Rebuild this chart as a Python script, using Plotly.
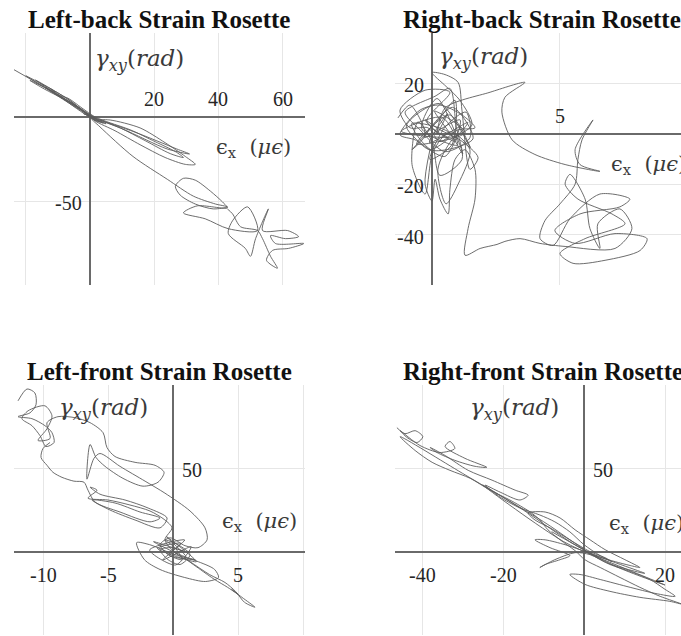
import plotly.graph_objects as go

# ---- Strain rosette trajectories: normal strain eps_x vs shear strain gamma_xy ----
# Left-back rosette
lb_eps_x = [-23.75, -15.6, -10.9, -12.5, -7.8, -3.1, 0.6, 3.1, -1.6, -6.3, -10.0, -6.9, -2.5, 1.6, 6.3, 12.5,
            20.3, 26.6, 29.1, 25.0, 17.2, 9.4, 3.1, 6.3, 15.6, 23.4, 29.7, 32.8, 29.7, 23.4, 15.6, 7.8, 1.6,
            -0.6, -4.7, -8.75, -14.1, -18.75, -12.5, -4.7, 1.6,
            -20.0, -8.0, 2.0, -5.0, -14.0, -3.0, 4.0, -1.0, -10.0, -17.0, -6.0, 1.0, 5.0, -2.0,
            2.0, 14.0, 27.0, 31.0, 24.0, 10.0, 0.0,
            3.1, 13.4, 24.1, 32.2, 39.1, 42.8, 38.4, 32.8,
            28.1, 26.6, 29.1, 32.8, 37.5, 41.3, 42.8, 33.4, 29.1, 35.9, 43.1, 52.2, 49.1, 44.4, 43.1, 48.4,
            50.0, 51.6, 55.6, 53.75, 61.6, 65.0, 60.9, 56.25, 57.8, 66.6, 61.9, 56.9, 55.0, 58.4, 56.25,
            53.75, 52.2, 46.9, 44.4, 42.8]
lb_gamma_xy = [28.2, 19.4, 14.7, 17.1, 10.6, 5.3, -0.6, -2.9, 2.9, 8.8, 12.9, 11.2, 5.3, 0.0, -3.5, -7.6,
               -14.7, -20.6, -24.1, -21.8, -14.1, -6.5, -1.8, -1.8, -6.5, -15.3, -23.5, -28.2, -28.2, -24.1,
               -16.5, -8.2, -2.4, 1.2, 6.5, 11.2, 16.5, 21.8, 15.9, 7.1, -0.6,
               24.5, 12.0, -2.5, 7.5, 17.5, 4.0, -3.5, 1.0, 13.0, 22.0, 9.5, -1.5, -4.0, 2.0,
               -1.0, -9.0, -19.0, -22.0, -19.0, -7.0, 0.0,
               -5.9, -23.5, -37.1, -47.1,
               -51.8, -53.5, -54.7, -51.8, -46.5, -41.2, -36.5, -37.6, -44.1, -50.6, -54.1, -52.9, -57.1,
               -60.6, -66.5, -67.6, -53.5, -61.8, -69.4, -78.2, -82.9, -72.4, -54.7, -67.6, -67.6, -71.2,
               -72.4, -70.6, -75.3, -75.3, -78.2, -79.4, -85.3, -90.0, -82.9, -72.4, -67.6, -65.3, -57.6, -54.7]

# Right-back rosette
rb_eps_x = [-1.33, -0.86, -0.27, -0.78, 0.31, 0.90, 0.78, -0.08, 0.51, 1.33, 1.48, 0.51, -0.47, -1.05, 0.12,
            0.70, 0.94, 1.17, 0.31, 0.0, -0.55, -0.78, -0.27, 0.04, 0.70, 1.48, 1.02, 0.55, 0.23, 0.78, 1.56,
            1.09, 0.55, 0.0, 0.51, 1.02, 1.17, 1.48, 1.80, 1.09, 0.31, -0.27, 0.20, 0.63, -0.08, -0.66, -1.25,
            -0.47, 0.31, 1.17, 1.68, 1.02, 0.31, -0.16, -0.86, -1.25, -0.27, 0.70,
            -0.2, 0.9, 0.1, 1.3, -0.6, 0.7, 1.5, 0.3, -1.0, 0.5, 1.1, -0.3, 0.8, 1.6, 0.0, -0.8, 0.6, 1.2,
            0.2, -0.4, 1.0, 0.4, -1.2, 0.9, 1.4, -0.1, 0.6, 0.2,
            0.51, 2.27, 3.63, 2.85,
            2.73, 3.13, 4.02, 5.20, 6.56, 5.78, 5.59, 6.29, 5.86, 5.70, 5.59, 5.0, 4.41, 4.22, 4.73, 5.39,
            6.56, 7.73, 7.34, 5.78, 4.80, 5.59, 7.15, 8.40, 8.13, 6.76, 5.51, 5.0, 5.98, 7.54, 7.03, 5.70,
            5.20, 5.39, 5.98, 6.17, 6.56, 6.48, 7.34, 7.81, 7.15, 5.20, 4.22, 3.44, 2.85, 2.54, 1.88, 1.29,
            1.41, 1.68, 1.68, 1.29, 0.90, 0.70, 0.63, 0.31, 0.12, 0.0, -0.27, -0.08]
rb_gamma_xy = [6.3, 11.4, -0.4, -6.3, 6.3, 13.3, -4.3, -10.2, 2.7, 8.6, -1.6, -7.1, 1.6, 8.6, 14.9, 18.0, 3.1,
               -10.2, -16.5, -3.1, 4.7, -12.2, -23.9, -7.1, 0.8, -6.3, -20.0, -27.8, -14.1, -2.4, 3.5, 13.3,
               18.8, 24.3, 23.5, 20.4, 9.4, -14.1, -9.4, -2.4, 1.6, 5.5, 0.4, -1.6, -6.3, -2.4, -0.4, 9.4,
               11.4, 7.5, 2.4, 1.6, -3.1, 2.4, 2.4, 9.4, 17.3, 16.5,
               5.0, -3.0, 9.0, 0.5, -4.0, 7.5, -5.5, 12.0, 3.0, -9.0, 5.5, -1.5, 10.5, -2.0, -6.5, 4.0, 1.0,
               -8.0, 14.0, 2.0, -4.5, 6.5, 1.0, -1.0, 4.5, -3.5, 8.0, 0.0,
               10.2, 16.5, 20.4, 14.5, 8.6, -2.4, -8.2,
               -12.2, -14.9, -12.2, -6.3, 5.5, -2.4, -10.2, -20.0, -27.8, -34.5, -41.6, -44.3, -33.7, -23.9,
               -25.9, -29.0, -31.8, -38.4, -43.5, -39.6, -41.6, -46.3, -50.2, -51.4, -47.5, -41.6, -35.7,
               -31.8, -25.9, -20.0, -16.1, -25.9, -37.6, -45.5, -35.7, -29.8, -37.6, -45.5, -44.7, -43.5,
               -41.6, -42.7, -43.9, -45.5, -48.2, -37.6, -25.9, -14.1, -6.3, -10.2, -22.0, -31.8, -25.9,
               -18.0, -26.7, -20.0, -6.3]

# Left-front rosette
lf_eps_x = [-11.92, -11.23, -10.62, -10.54, -11.0, -11.92, -10.85, -9.85, -9.31, -9.15, -9.77, -10.23, -10.85,
            -11.62, -11.15, -9.85, -9.31, -9.69, -10.38, -9.46, -9.69,
            -8.85, -7.54, -6.38, -5.38, -5.08, -4.46, -2.92, -1.38, -0.69, -1.15, -2.31, -3.85, -5.23, -5.92,
            -6.38, -6.62, -6.08, -5.62,
            -4.08, -2.15, -0.62, 1.31, 2.46, 2.62, 1.92,
            0.92, -0.23, -1.0, -0.38, 0.69, 0.15, -0.62, 0.38, 1.31, 0.54, -0.38, -1.0, -0.08, 0.92,
            -1.5, 1.0, -0.5, 1.8, -1.2, 0.6, -0.8, 1.4, 0.2, -1.8, 0.9, -0.3,
            1.7, 0.15, -1.8, -2.8, -2.2, -1.0, 0.9, 2.5, 3.5, 3.2, 2.1, 0.9, 2.1, 3.2, 4.2, 5.0, 4.5, 5.3,
            6.3, 5.5, 4.8, 4.0, 2.8, 1.3, 0.15,
            -0.62, -0.08, -0.62, -1.77, -3.31, -5.0, -6.54, -5.85, -6.38, -5.62, -3.69, -1.92, -0.46, -1.0,
            -2.92, -4.85, -6.23, -4.46, -2.54, -1.0, -1.77, -4.08, -6.0, -6.54,
            -6.85, -7.62, -8.54, -9.23, -9.69, -10.15, -10.0, -9.46]
lf_gamma_xy = [90.5, 97.6, 95.2, 88.1, 83.3, 81.0, 79.8, 75.6, 71.4, 65.5, 63.1, 69.6, 75.6,
               79.8, 84.5, 87.5, 81.5, 73.8, 66.7, 67.9, 77.4,
               81.0, 80.4, 77.4, 71.4, 62.5, 57.1, 53.6, 51.8, 47.6, 41.7, 39.3, 44.0, 51.2, 56.5,
               64.3, 43.5, 56.0, 58.9,
               51.2, 42.3, 35.1, 24.4, 14.3, 7.1, 2.4,
               3.6, 8.3, 4.2, -1.8, -4.8, 2.4, 7.1, 4.2, -1.8, -7.7, -4.8, 1.2, 2.4, 0.0,
               6.0, -3.0, 9.0, -6.0, 2.0, 5.0, -5.0, 3.0, -8.0, 1.0, 7.0, -2.0,
               -4.8, -1.8, 4.2, 5.4, -4.8, -10.7, -15.5, -17.9, -15.5, -10.7, -6.5, -3.6, -10.7, -16.7, -21.4,
               -25.6, -22.6, -27.4, -33.3, -30.4, -23.8, -18.5, -13.7, -6.0, -0.6,
               7.1, 14.3, 19.0, 24.4, 28.0, 31.0, 32.1, 36.9, 38.7, 34.5, 31.0, 26.2, 20.2, 14.3,
               19.0, 25.0, 31.0, 29.2, 23.8, 20.2, 17.9, 23.8, 29.8, 36.9,
               41.7, 42.3, 44.6, 47.6, 51.8, 56.5, 61.9, 65.5]

# Right-front rosette
rf_eps_x = [-46.2, -44.2, -41.7, -39.8, -41.2, -43.7, -45.4, -40.5, -35.6, -31.9, -33.1, -34.3, -29.4, -24.0,
            -26.9, -31.9, -36.3, -38.0, -34.3, -28.6, -22.7, -17.0, -13.8, -15.8, -20.7, -24.4, -20.7, -15.8,
            -10.9, -7.2, -3.5, 0.0, 4.0, 6.9, 5.2, 1.5, -3.5, -8.4, -12.1, -13.8, -9.6, -5.9, -2.2, 1.5, 5.2,
            10.1, 13.8, 11.4, 7.7, 3.5, -1.0, -4.7, -9.6, -12.1, -8.4, -3.5, -5.9, -9.6, -10.9, -7.2, -2.2,
            1.5, 6.4, 11.4, 16.3, 20.0, 22.5, 17.5, 11.4, 4.0, -1.0, -3.5, 0.2, 6.4, 13.8, 21.2, 24.2, 18.8,
            13.8, 8.9, 4.0, 0.2, -2.2, -5.9, -8.9, -10.9, -13.3, -18.3, -23.2, -28.1, -33.1, -37.5, -41.7,
            -45.4, -30.0, -10.0, 5.0, 15.0, 0.0, -15.0, -25.0, -5.0, 10.0, 20.0, 8.0, -8.0]
rf_gamma_xy = [74.4, 70.8, 72.6, 69.0, 65.5, 68.5, 72.6, 63.7, 59.5, 61.9, 66.1, 63.1, 56.0, 50.6, 51.2, 54.8,
               59.5, 62.5, 57.7, 48.8, 42.9, 36.9, 33.9, 31.0, 35.7, 39.9, 32.7, 26.2, 22.0, 17.9, 11.9, 4.2,
               -2.4, -6.0, -3.6, 0.0, 7.1, 14.3, 19.0, 23.2, 23.8, 20.2, 13.1, 7.1, 1.2, -4.8, -9.5, -8.3,
               -6.0, -3.0, 1.2, 4.2, 7.1, 7.1, 2.4, -2.4, -4.8, -7.7, -9.5, -4.8, -0.6, -1.8, -7.7, -11.9,
               -16.7, -22.6, -26.8, -25.0, -21.4, -16.7, -13.7, -13.7, -19.6, -23.8, -27.4, -29.8, -31.5,
               -26.8, -21.4, -15.5, -9.5, -4.8, 0.6, 7.1, 13.1, 19.0, 23.8, 31.0, 36.9, 44.0, 48.8, 53.6,
               60.7, 69.0, 47.0, 18.0, -6.0, -13.0, 1.0, 25.0, 40.0, 6.0, -10.0, -20.0, -9.0, 12.0]

# Panel titles and the tick labels printed beside the crossing axes
titles = ["Left-back Strain Rosette", "Right-back Strain Rosette",
          "Left-front Strain Rosette", "Right-front Strain Rosette"]
lb_xticks, lb_yticks = [20, 40, 60], [-50]
rb_xticks, rb_yticks = [5], [20, -20, -40]
lf_xticks, lf_yticks = [-10, -5, 5], [50]
rf_xticks, rf_yticks = [-40, -20, 20], [50]

W, H = 681, 636
SERIF = "Liberation Serif, Times New Roman, DejaVu Serif, serif"
MATH = "DejaVu Serif, Liberation Serif, serif"
LINE = "#5c5c5c"
GRID = "#e6e6e6"
AXIS = "#6a6a6a"


def px_x(p):
    return p / W


def px_y(p):
    return 1 - p / H


panels = [
    # (x data, y data, x domain px, y domain px, x range, y range, x dtick, y dtick)
    (lb_eps_x, lb_gamma_xy, (14, 305), (33, 285), [-23.7, 67.0], [-100, 50], 20, 50),
    (rb_eps_x, rb_gamma_xy, (395, 681), (33, 285), [-1.445, 9.727], [-60, 40], 5, 20),
    (lf_eps_x, lf_gamma_xy, (14, 305), (385, 635), [-12.23, 10.15], [-50, 100], 5, 50),
    (rf_eps_x, rf_gamma_xy, (395, 681), (385, 635), [-46.67, 23.95], [-50, 100], 20, 50),
]

fig = go.Figure()
layout = dict(width=W, height=H, margin=dict(l=0, r=0, t=0, b=0),
              paper_bgcolor="white", plot_bgcolor="white", showlegend=False)

for i, (xs, ys, dx, dy, xr, yr, xdt, ydt) in enumerate(panels):
    n = "" if i == 0 else str(i + 1)
    fig.add_trace(go.Scatter(x=xs, y=ys, mode="lines", xaxis="x" + n, yaxis="y" + n,
                             line=dict(color=LINE, width=0.9, shape="spline", smoothing=0.8),
                             hoverinfo="skip"))
    common = dict(showgrid=True, gridcolor=GRID, gridwidth=1, zeroline=True,
                  zerolinecolor=AXIS, zerolinewidth=1.6, showticklabels=False,
                  ticks="", showline=False, fixedrange=True)
    layout["xaxis" + n] = dict(domain=[px_x(dx[0]), px_x(dx[1])], range=xr, dtick=xdt, tick0=0,
                               anchor="y" + n, **common)
    layout["yaxis" + n] = dict(domain=[px_y(dy[1]), px_y(dy[0])], range=yr, dtick=ydt, tick0=0,
                               anchor="x" + n, **common)

fig.update_layout(**layout)

tick_font = dict(family=SERIF, size=20, color="#262626")
ann = []


def xtick_labels(vals, n, above):
    for v in vals:
        ann.append(dict(x=v, y=0, xref="x" + n, yref="y" + n, text=str(v), showarrow=False,
                        xanchor="center", yanchor="bottom" if above else "top",
                        yshift=5 if above else -10, font=tick_font))


def ytick_labels(vals, n, left):
    for v in vals:
        ann.append(dict(x=0, y=v, xref="x" + n, yref="y" + n, text=str(v), showarrow=False,
                        xanchor="right" if left else "left", yanchor="middle",
                        xshift=-6 if left else 7, yshift=-2, font=tick_font))


xtick_labels(lb_xticks, "", True)
ytick_labels(lb_yticks, "", True)
xtick_labels(rb_xticks, "2", True)
ytick_labels(rb_yticks, "2", True)
xtick_labels(lf_xticks, "3", False)
ytick_labels(lf_yticks, "3", False)
xtick_labels(rf_xticks, "4", False)
ytick_labels(rf_yticks, "4", False)

# axis names written inside each panel
gamma_lbl = "<i>γ</i><sub><i>xy</i></sub>(<i>rad</i>)"
eps_lbl = "ϵ<sub>x</sub>  (<i>μϵ</i>)"
gamma_font = dict(family=MATH, size=23, color="#3a3a3a")
eps_font = dict(family=MATH, size=21, color="#3a3a3a")
label_pos = [
    ("", (1.0, 33.9), (38.6, -18.5)),
    ("2", (0.2, 30.2), (6.9, -12.5)),
    ("3", (-8.9, 85.7), (3.6, 18.0)),
    ("4", (-28.6, 85.7), (5.6, 16.5)),
]
for n, g, e in label_pos:
    ann.append(dict(x=g[0], y=g[1], xref="x" + n, yref="y" + n, text=gamma_lbl, showarrow=False,
                    xanchor="left", yanchor="middle", font=gamma_font))
    ann.append(dict(x=e[0], y=e[1], xref="x" + n, yref="y" + n, text=eps_lbl, showarrow=False,
                    xanchor="left", yanchor="middle", font=eps_font))

# panel titles
title_font = dict(family=SERIF, size=25, color="#111111")
ann.append(dict(x=px_x(159), y=px_y(19), xref="paper", yref="paper", text="<b>%s</b>" % titles[0],
                showarrow=False, xanchor="center", yanchor="middle", font=title_font))
ann.append(dict(x=px_x(401), y=px_y(19), xref="paper", yref="paper", text="<b>%s</b>" % titles[1],
                showarrow=False, xanchor="left", yanchor="middle", font=title_font))
ann.append(dict(x=px_x(159), y=px_y(371), xref="paper", yref="paper", text="<b>%s</b>" % titles[2],
                showarrow=False, xanchor="center", yanchor="middle", font=title_font))
ann.append(dict(x=px_x(401), y=px_y(371), xref="paper", yref="paper", text="<b>%s</b>" % titles[3],
                showarrow=False, xanchor="left", yanchor="middle", font=title_font))

fig.update_layout(annotations=ann)
fig.write_html("out.html", config={"displayModeBar": False})
